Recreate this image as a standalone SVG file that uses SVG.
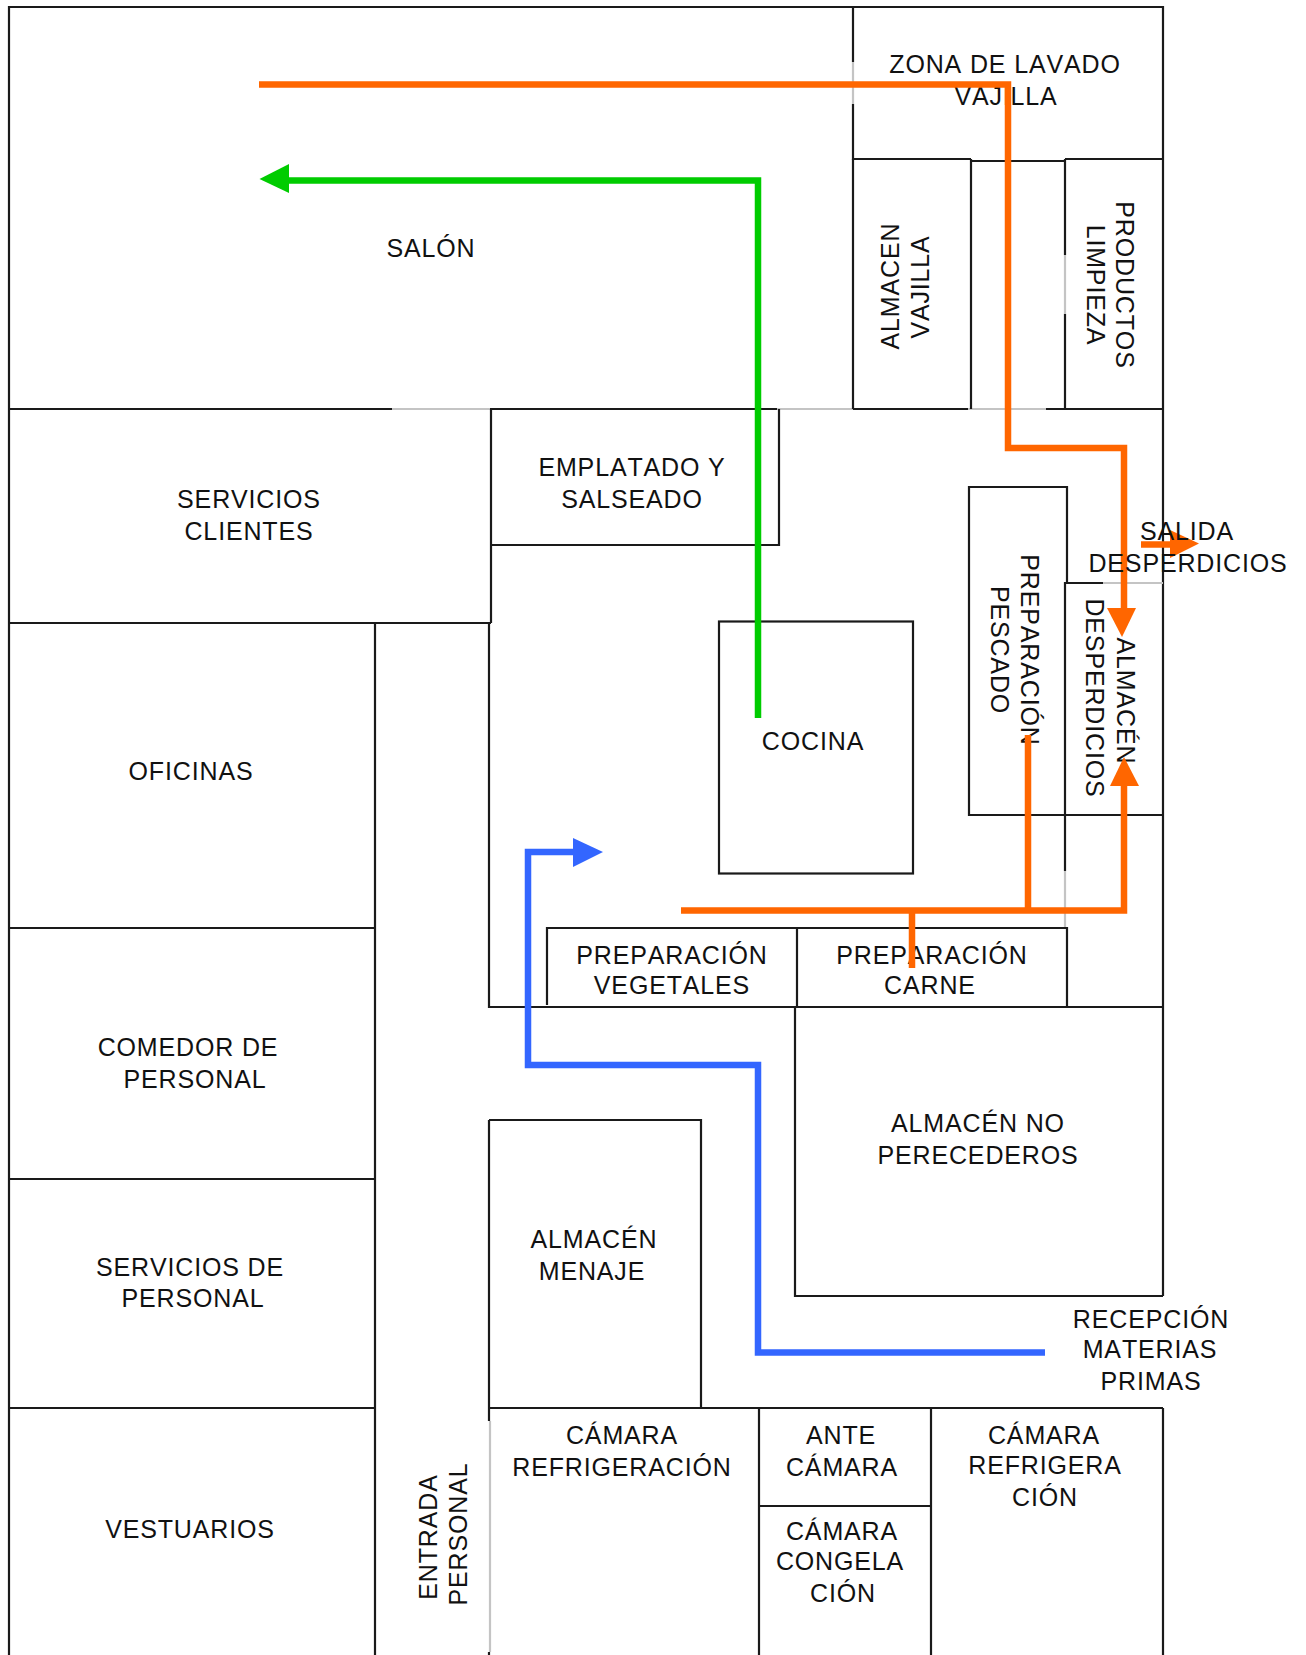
<svg xmlns="http://www.w3.org/2000/svg" width="1306" height="1655" viewBox="0 0 1306 1655">
<style>
text{font-family:"Liberation Sans",Arial,sans-serif;font-size:25px;letter-spacing:.85px;font-kerning:none;fill:#111;text-anchor:middle}
.w{fill:none;stroke:#1a1a1a;stroke-width:2.2}
.g{fill:none;stroke:#c4c4c4;stroke-width:2.2}
.or{fill:none;stroke:#f60;stroke-width:6.5}
.gr{fill:none;stroke:#0c0;stroke-width:6.5}
.bl{fill:none;stroke:#36f;stroke-width:6.5}
</style>
<rect width="1306" height="1655" fill="#fff"/>
<g id="walls">
<path class="w" d="M9 1655V7H1163V1296M1163 1408V1655"/>
<path class="w" d="M9 409H392M490 409H777M853 409H968M1046 409H1163"/>
<path class="g" d="M392 409H490M777 409H853M968 409H1046"/>
<path class="w" d="M9 623H491M9 928H375M9 1179H375M9 1408H375M375 623V1655"/>
<path class="w" d="M489 623V1007H1163M489 1120V1421"/>
<path class="g" d="M490 1421V1652"/>
<path class="w" d="M489 1652V1655"/>
<path class="w" d="M1065 815V871"/>
<path class="g" d="M1065 871V928"/>
</g>
<g id="zona-lavado">
<path class="w" d="M853 7V62M853 104V159H971M971 161H1065M1065 159H1163"/>
<path class="g" d="M853 62V104"/>
<text x="1005" y="73">ZONA DE LAVADO</text>
<text x="1006" y="105">VAJILLA</text>
</g>
<g id="almacen-vajilla">
<path class="w" d="M853 159V409M971 159V409"/>
<text transform="translate(899 286) rotate(-90)">ALMACEN</text>
<text transform="translate(929 287) rotate(-90)">VAJILLA</text>
</g>
<g id="productos-limpieza">
<path class="w" d="M1065 159V255M1065 314V409"/>
<path class="g" d="M1065 255V314"/>
<text transform="translate(1116 285) rotate(90)">PRODUCTOS</text>
<text transform="translate(1087 285) rotate(90)">LIMPIEZA</text>
</g>
<g id="salon"><text x="431" y="257">SALÓN</text></g>
<g id="servicios-clientes">
<path class="w" d="M491 409V623"/>
<text x="249" y="508">SERVICIOS</text>
<text x="249" y="540">CLIENTES</text>
</g>
<g id="emplatado">
<path class="w" d="M491 545H779V409"/>
<text x="632" y="475.500">EMPLATADO Y</text>
<text x="632" y="507.500">SALSEADO</text>
</g>
<g id="cocina">
<rect class="w" x="719" y="621.500" width="194" height="252"/>
<text x="813" y="750">COCINA</text>
</g>
<g id="preparacion-pescado">
<path class="w" d="M1067 583V487H969V815H1065"/>
<text transform="translate(1021 650) rotate(90)">PREPARACIÓN</text>
<text transform="translate(991 650) rotate(90)">PESCADO</text>
</g>
<g id="almacen-desperdicios">
<path class="w" d="M1103 583H1065V815H1163"/>
<path class="g" d="M1103 583H1163"/>
<text transform="translate(1117 701) rotate(90)">ALMACÉN</text>
<text transform="translate(1086 698) rotate(90)">DESPERDICIOS</text>
</g>
<g id="preparacion-vegetales">
<path class="w" d="M547 1005V928H797V1007"/>
<text x="672" y="963.500">PREPARACIÓN</text>
<text x="672" y="994">VEGETALES</text>
</g>
<g id="preparacion-carne">
<path class="w" d="M797 928H1067V1007"/>
<text x="932" y="963.500">PREPARACIÓN</text>
<text x="930" y="994">CARNE</text>
</g>
<g id="oficinas"><text x="191" y="779.500">OFICINAS</text></g>
<g id="comedor">
<text x="188" y="1056">COMEDOR DE</text>
<text x="195" y="1088">PERSONAL</text>
</g>
<g id="servicios-personal">
<text x="190" y="1275.500">SERVICIOS DE</text>
<text x="193" y="1307">PERSONAL</text>
</g>
<g id="vestuarios"><text x="190" y="1537.500">VESTUARIOS</text></g>
<g id="entrada-personal">
<text transform="translate(437 1537) rotate(-90)">ENTRADA</text>
<text transform="translate(467 1534) rotate(-90)">PERSONAL</text>
</g>
<g id="almacen-no-perecederos">
<path class="w" d="M795 1007V1296H1163"/>
<text x="978" y="1132">ALMACÉN NO</text>
<text x="978" y="1164">PERECEDEROS</text>
</g>
<g id="almacen-menaje">
<path class="w" d="M489 1120H701V1408"/>
<text x="594" y="1247.500">ALMACÉN</text>
<text x="592" y="1280">MENAJE</text>
</g>
<g id="camara-refrigeracion">
<path class="w" d="M489 1408H1163"/>
<text x="622" y="1443.500">CÁMARA</text>
<text x="622" y="1476">REFRIGERACIÓN</text>
</g>
<g id="ante-camara">
<path class="w" d="M759 1408V1655M759 1506H931"/>
<text x="841" y="1443.500">ANTE</text>
<text x="842" y="1476">CÁMARA</text>
</g>
<g id="camara-congelacion">
<text x="842" y="1539.500">CÁMARA</text>
<text x="840" y="1570">CONGELA</text>
<text x="843" y="1602">CIÓN</text>
</g>
<g id="camara-refrigeracion-2">
<path class="w" d="M931 1408V1655"/>
<text x="1044" y="1443.500">CÁMARA</text>
<text x="1045" y="1474">REFRIGERA</text>
<text x="1045" y="1506">CIÓN</text>
</g>
<g id="recepcion">
<text x="1151" y="1327.500">RECEPCIÓN</text>
<text x="1150" y="1358">MATERIAS</text>
<text x="1151" y="1390">PRIMAS</text>
</g>
<g id="connectors">
<path class="or" d="M259 84.500H1008V448H1124V608"/>
<polygon points="1107,608 1136,608 1122,637" fill="#f60"/>
<path class="or" d="M1141 544.500H1172"/>
<polygon points="1170,530 1199,543.500 1170,558" fill="#f60"/>
<path class="or" d="M681 910.500H1124V785"/>
<polygon points="1110,786 1139,786 1124,757" fill="#f60"/>
<path class="or" d="M1028 735V910M912 910V968"/>
<path class="gr" d="M758 718V180.500H288"/>
<polygon points="289,164 259.500,179 289,193" fill="#0c0"/>
<path class="bl" d="M1045 1352.500H758V1065H528V852H574"/>
<polygon points="573,838 603,852 573,867" fill="#36f"/>
</g>
<g id="salida-desperdicios">
<text x="1187" y="539.500">SALIDA</text>
<text x="1188" y="571.500">DESPERDICIOS</text>
</g>
</svg>
